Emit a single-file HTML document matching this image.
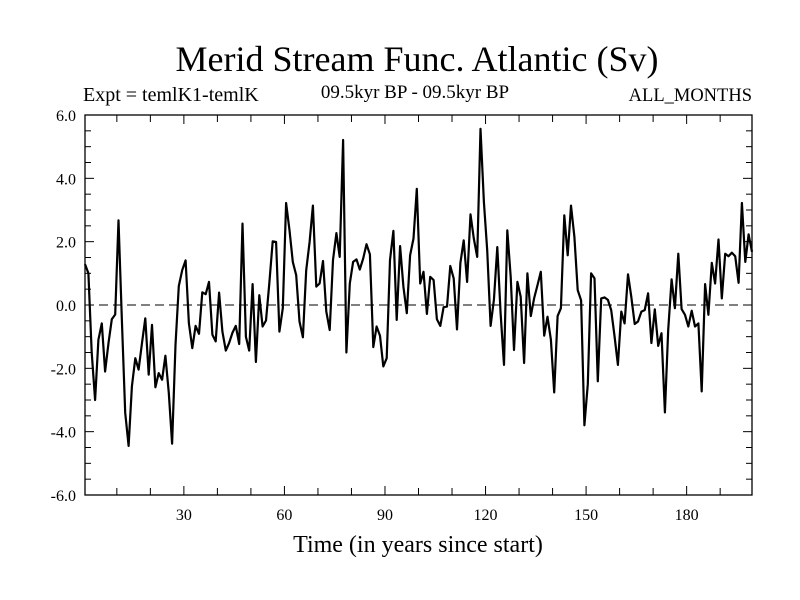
<!DOCTYPE html>
<html><head><meta charset="utf-8"><style>
body{margin:0;background:#fff;}
svg{display:block;font-family:"Liberation Serif",serif;}
</style></head><body>
<svg id="chart" width="800" height="600" viewBox="0 0 800 600">
<rect width="800" height="600" fill="#fff"/>
<text x="417" y="71" font-size="36" text-anchor="middle">Merid Stream Func. Atlantic (Sv)</text>
<text x="83" y="101" font-size="20">Expt = temlK1-temlK</text>
<text x="415" y="98" font-size="19" text-anchor="middle">09.5kyr BP - 09.5kyr BP</text>
<text x="752" y="101" font-size="18.5" text-anchor="end">ALL_MONTHS</text>
<text x="418" y="552" font-size="24" text-anchor="middle">Time (in years since start)</text>
<g id="axes"></g>
<g id="series"></g>
</svg>
<script>
const xTicks=[30,60,90,120,150,180];
const yTicks=[6.0,4.0,2.0,0.0,-2.0,-4.0,-6.0];
const values=[1.29,1.0,-1.5,-3.0,-1.1,-0.58,-2.1,-1.2,-0.45,-0.3,2.67,-0.5,-3.4,-4.45,-2.57,-1.68,-2.04,-1.2,-0.42,-2.2,
-0.63,-2.6,-2.15,-2.36,-1.6,-2.78,-4.38,-1.26,0.6,1.1,1.41,-0.58,-1.36,-0.66,-0.91,0.4,0.34,0.73,-0.94,-1.15,
0.39,-0.84,-1.44,-1.2,-0.87,-0.66,-1.23,2.57,-1.0,-1.44,0.66,-1.8,0.31,-0.68,-0.49,0.68,2.01,1.99,-0.84,-0.1,
3.22,2.36,1.36,0.94,-0.52,-1.02,1.1,1.99,3.14,0.58,0.68,1.39,-0.21,-0.79,1.42,2.27,1.52,5.21,-1.5,0.68,
1.36,1.44,1.12,1.47,1.92,1.6,-1.33,-0.68,-0.97,-1.94,-1.68,1.42,2.34,-0.47,1.86,0.58,-0.26,1.57,2.1,3.67,
0.68,1.05,-0.28,0.89,0.79,-0.45,-0.66,-0.07,-0.05,1.23,0.84,-0.77,1.33,2.04,0.73,2.86,2.1,1.52,5.56,3.25,
1.73,-0.66,0.16,1.83,-0.26,-1.89,2.36,0.89,-1.42,0.73,0.26,-1.83,1.0,-0.35,0.21,0.63,1.05,-0.97,-0.37,-1.1,
-2.76,-0.35,-0.1,2.83,1.57,3.14,2.15,0.47,0.15,-3.8,-2.5,1.0,0.84,-2.41,0.21,0.24,0.16,-0.16,-1.0,-1.89,
-0.21,-0.58,0.97,0.26,-0.6,-0.52,-0.21,-0.16,0.37,-1.2,-0.14,-1.29,-0.89,-3.39,-0.79,0.81,-0.1,1.62,-0.13,-0.31,
-0.68,-0.18,-0.68,-0.58,-2.73,0.66,-0.31,1.33,0.68,2.07,0.21,1.62,1.54,1.65,1.54,0.7,3.22,1.36,2.23,1.68];
const L=85,R=752,T=115,B=495,x0=0.5,x1=199.5,y0=-6,y1=6;
const X=v=>L+(v-x0)/(x1-x0)*(R-L);
const Y=v=>B-(v-y0)/(y1-y0)*(B-T);
const NS='http://www.w3.org/2000/svg';
const ax=document.getElementById('axes'),se=document.getElementById('series');
function mk(tag,at,parent){const e=document.createElementNS(NS,tag);for(const k in at)e.setAttribute(k,at[k]);parent.appendChild(e);return e;}
const frame=mk('rect',{x:L,y:T,width:R-L,height:B-T,fill:'none',stroke:'#000','stroke-width':1.3},ax);


for(let t=10;t<200;t+=10){
  const len=(t%30===0)?9:7;
  const a=mk('line',{x1:X(t),x2:X(t),y1:B,y2:B-len,stroke:'#000'},ax);
  
  
  const b=mk('line',{x1:X(t),x2:X(t),y1:T,y2:T+len,stroke:'#000'},ax);
  
  
}
xTicks.forEach(t=>{
  const tx=mk('text',{x:X(t),y:B+25,'font-size':16,'text-anchor':'middle'},ax);
  tx.textContent=t;
  
  
});
for(let v=-5.5;v<6;v+=0.5){
  const len=(Math.abs(v%2)<1e-9)?9:6;
  const a=mk('line',{x1:L,x2:L+len,y1:Y(v),y2:Y(v),stroke:'#000'},ax);
  
  
  const b=mk('line',{x1:R,x2:R-len,y1:Y(v),y2:Y(v),stroke:'#000'},ax);
  
  
}
yTicks.forEach(v=>{
  const tx=mk('text',{x:L-9,y:Y(v)+6,'font-size':16,'text-anchor':'end'},ax);
  tx.textContent=v.toFixed(1);
  
  
});
const zl=mk('line',{x1:L,x2:R,y1:Y(0),y2:Y(0),stroke:'#000','stroke-dasharray':'9,5','stroke-width':1},se);


const pts=values.map((v,i)=>X(x0+i).toFixed(1)+','+Y(v).toFixed(1)).join(' ');
const pl=mk('polyline',{points:pts,fill:'none',stroke:'#000','stroke-width':2.2,'stroke-linejoin':'round'},se);


</script>
</body></html>
